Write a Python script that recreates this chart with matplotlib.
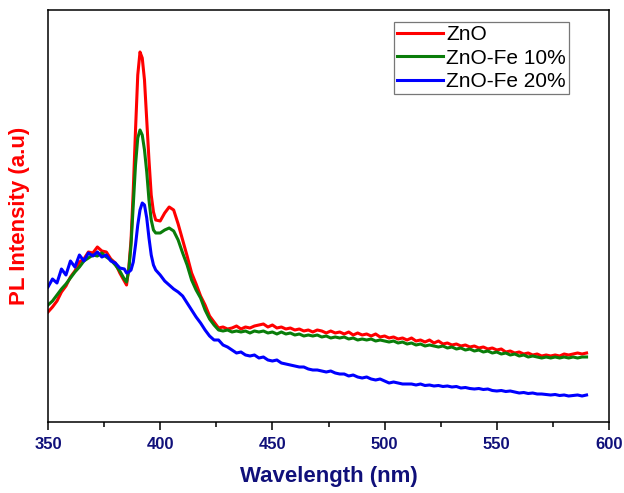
import numpy as np
import matplotlib
matplotlib.use("Agg")
import matplotlib.pyplot as plt
from matplotlib.ticker import MultipleLocator

plt.rcParams['font.family'] = ['Liberation Sans', 'DejaVu Sans']

# Emission wavelength grid (nm): 2 nm steps, 1 nm steps across the band-edge peak
wavelength = (list(range(350, 385, 2)) + list(range(385, 399)) + list(range(400, 591, 2)))

pl_zno = [
    1130, 1180, 1240, 1330, 1390, 1480, 1540, 1630, 1660, 1730,
    1720, 1780, 1740, 1730, 1660, 1620, 1520, 1440,
    1400, 1570, 1850, 2350, 2950, 3500, 3730, 3670, 3450, 3050, 2650, 2300, 2130, 2050,
    2040, 2120, 2180, 2150, 2010, 1850, 1690, 1520, 1410, 1290,
    1200, 1090, 1030, 970, 980, 960, 970, 990, 960, 980,
    970, 990, 1000, 1010, 980, 1000, 970, 980, 960, 970,
    950, 960, 940, 950, 930, 950, 940, 920, 940, 920,
    930, 910, 930, 900, 920, 900, 910, 890, 910, 880,
    890, 870, 880, 860, 870, 850, 870, 840, 850, 830,
    850, 820, 840, 810, 820, 800, 810, 790, 800, 780,
    790, 770, 780, 760, 770, 750, 760, 730, 740, 720,
    730, 710, 720, 700, 710, 690, 700, 690, 700, 690,
    710, 700, 710, 720, 710, 720,
]

pl_fe10 = [
    1200, 1240, 1300, 1360, 1410, 1470, 1530, 1580, 1640, 1670,
    1700, 1690, 1720, 1680, 1650, 1600, 1540, 1460,
    1430, 1550, 1800, 2200, 2600, 2870, 2950, 2900, 2750, 2530, 2250, 2050, 1950, 1920,
    1920, 1950, 1970, 1940, 1850, 1720, 1600, 1450, 1350, 1270,
    1150, 1060, 1000, 950, 940, 950, 930, 940, 930, 940,
    920, 940, 930, 940, 920, 930, 910, 930, 910, 920,
    900, 910, 890, 900, 890, 900, 880, 890, 870, 880,
    870, 880, 860, 870, 850, 860, 850, 860, 840, 850,
    840, 830, 840, 820, 830, 810, 820, 800, 810, 790,
    800, 790, 780, 790, 770, 780, 760, 770, 750, 760,
    740, 750, 730, 740, 720, 730, 710, 720, 700, 710,
    690, 700, 680, 690, 680, 670, 680, 670, 680, 670,
    680, 670, 680, 670, 680, 680,
]

pl_fe20 = [
    1380, 1460, 1420, 1560, 1500, 1640, 1580, 1700, 1640, 1720,
    1690, 1730, 1680, 1700, 1640, 1620, 1570, 1560,
    1520, 1530, 1550, 1630, 1800, 2000, 2150, 2220, 2200, 2070, 1870, 1700, 1600, 1550,
    1500, 1440, 1400, 1360, 1330, 1290, 1220, 1150, 1080, 1020,
    950, 890, 850, 850, 800, 780, 750, 720, 730, 700,
    690, 700, 670, 680, 650, 640, 650, 620, 610, 600,
    590, 580, 580, 560, 550, 550, 540, 530, 540, 520,
    510, 510, 490, 500, 480, 470, 480, 460, 450, 460,
    440, 420, 430, 420, 410, 410, 410, 400, 410, 395,
    400, 390, 395, 385, 390, 380, 385, 370, 375, 365,
    360, 365, 355, 360, 345, 340, 345, 335, 340, 330,
    320, 325, 315, 320, 310, 310, 305, 300, 305, 295,
    300, 290, 295, 300, 290, 300,
]

labels = ["ZnO", "ZnO-Fe 10%", "ZnO-Fe 20%"]
colors = ["#ff0000", "#0a7d0a", "#0000ff"]

fig = plt.figure(figsize=(6.24, 4.93), dpi=100)
ax = fig.add_axes([48 / 624, 1 - 422 / 493, (609 - 48) / 624, (422 - 10) / 493])

for series, lab, col in zip([pl_zno, pl_fe10, pl_fe20], labels, colors):
    ax.plot(wavelength, series, color=col, lw=2.2, label=lab)

ax.set_xlim(350, 600)
ax.set_ylim(30, 4150)
ax.xaxis.set_major_locator(MultipleLocator(50))
ax.xaxis.set_minor_locator(MultipleLocator(25))
ax.set_yticks([])

navy = "#10107a"
ax.tick_params(axis='x', which='major', direction='out', length=6, width=1.1,
               labelsize=12, labelcolor=navy, pad=5)
ax.tick_params(axis='x', which='minor', direction='out', length=3.5, width=1.1)
for t in ax.get_xticklabels():
    t.set_fontweight('bold')
for s in ax.spines.values():
    s.set_linewidth(1.1)

ax.set_xlabel("Wavelength (nm)", fontsize=16, fontweight='bold', color=navy, labelpad=10)
ax.set_ylabel("PL Intensity (a.u)", fontsize=16, fontweight='bold', color="#ff0000")
ax.yaxis.set_label_coords(-0.032, 0.5)

leg = ax.legend(loc='upper right', bbox_to_anchor=(569 / 624, 1 - 22 / 493),
                bbox_transform=fig.transFigure, fontsize=15, frameon=True, fancybox=False,
                borderaxespad=0, borderpad=0.15, handlelength=2.2, handletextpad=0.15,
                labelspacing=0.22)
leg.get_frame().set_edgecolor("#555555")
leg.get_frame().set_linewidth(0.9)

fig.savefig("out.png", dpi=100, facecolor="white")
